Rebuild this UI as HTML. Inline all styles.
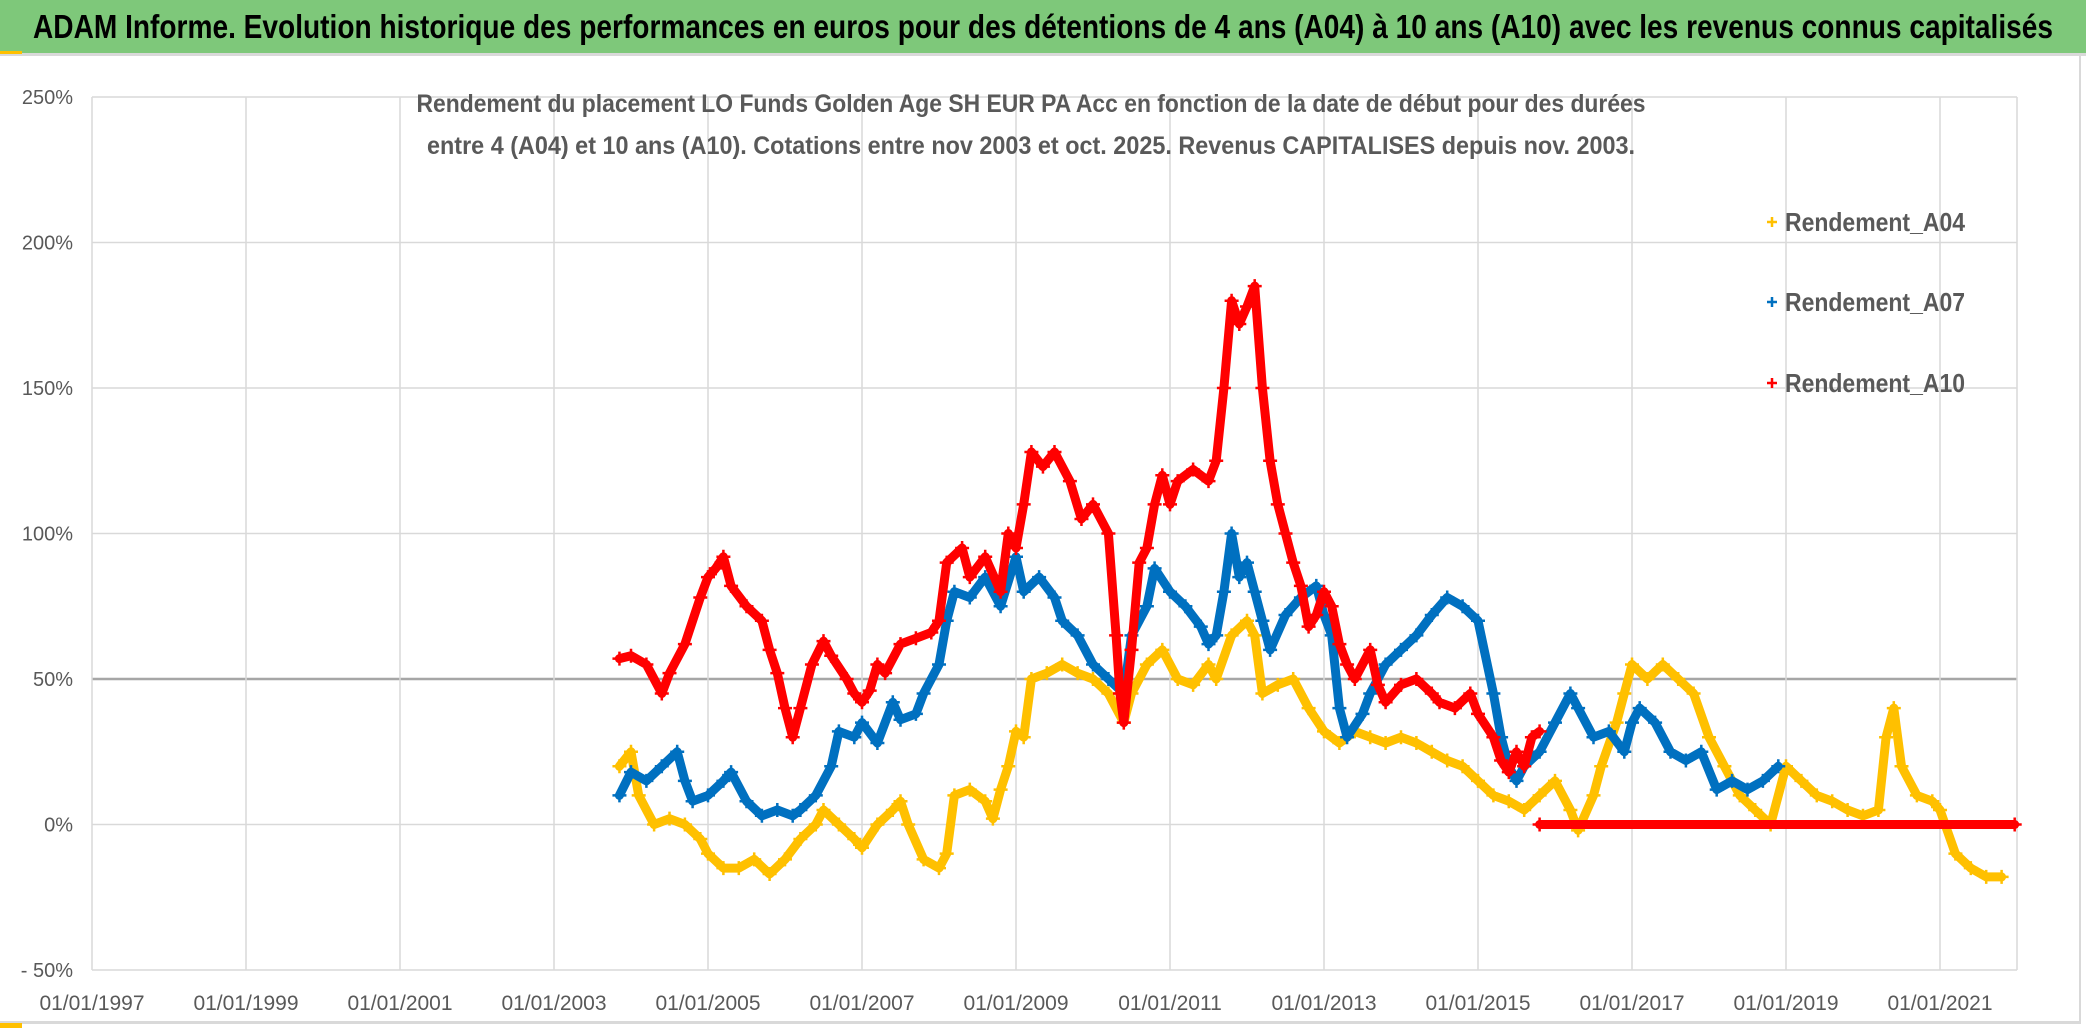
<!DOCTYPE html>
<html><head><meta charset="utf-8">
<style>
html,body{margin:0;padding:0;background:#fff;}
body{width:2086px;height:1032px;overflow:hidden;position:relative;}
svg{position:absolute;left:0;top:0;}
</style></head><body>
<svg id="chart" width="2086" height="1032"></svg>
<script>
const xTickYears=[1997,1999,2001,2003,2005,2007,2009,2011,2013,2015,2017,2019,2021];
const yTicks=[-50,0,50,100,150,200,250];
const a10Dates=[2003.85,2004.0,2004.2,2004.4,2004.5,2004.7,2004.9,2005.0,2005.1,2005.2,2005.3,2005.5,2005.7,2005.8,2005.9,2006.0,2006.1,2006.2,2006.35,2006.5,2006.6,2006.8,2006.9,2007.0,2007.1,2007.2,2007.3,2007.5,2007.7,2007.9,2008.0,2008.1,2008.3,2008.4,2008.6,2008.8,2008.9,2009.0,2009.1,2009.2,2009.35,2009.5,2009.7,2009.85,2010.0,2010.2,2010.3,2010.35,2010.4,2010.5,2010.6,2010.7,2010.8,2010.9,2011.0,2011.1,2011.3,2011.5,2011.6,2011.7,2011.8,2011.9,2012.0,2012.1,2012.2,2012.3,2012.4,2012.5,2012.6,2012.7,2012.8,2012.9,2013.0,2013.1,2013.2,2013.3,2013.4,2013.6,2013.7,2013.8,2014.0,2014.2,2014.4,2014.5,2014.7,2014.9,2015.0,2015.2,2015.3,2015.4,2015.5,2015.6,2015.7,2015.8];
const a10Values=[57,58,55,45,52,62,78,85,88,92,82,75,70,60,52,40,30,40,55,63,58,50,45,42,46,55,52,62,64,66,70,90,95,85,92,80,100,95,110,128,123,128,118,105,110,100,65,45,35,60,90,95,110,120,110,118,122,118,125,150,180,172,178,185,150,125,110,100,90,82,68,72,80,75,62,55,50,60,48,42,48,50,45,42,40,45,38,30,22,18,25,20,30,32];
const a10ZeroDates=[2015.8,2021.97];
const a10ZeroValues=[0,0];
const a07Dates=[2003.85,2004.0,2004.2,2004.4,2004.6,2004.7,2004.8,2005.0,2005.2,2005.3,2005.5,2005.7,2005.9,2006.1,2006.2,2006.4,2006.6,2006.7,2006.9,2007.0,2007.2,2007.4,2007.5,2007.7,2007.8,2008.0,2008.1,2008.2,2008.4,2008.6,2008.8,2009.0,2009.1,2009.3,2009.5,2009.6,2009.8,2010.0,2010.2,2010.4,2010.5,2010.7,2010.8,2011.0,2011.2,2011.4,2011.5,2011.6,2011.7,2011.8,2011.9,2012.0,2012.1,2012.2,2012.3,2012.5,2012.7,2012.9,2013.0,2013.1,2013.2,2013.3,2013.5,2013.6,2013.8,2014.0,2014.2,2014.4,2014.6,2014.8,2015.0,2015.2,2015.3,2015.4,2015.5,2015.6,2015.8,2016.0,2016.2,2016.3,2016.5,2016.7,2016.9,2017.0,2017.1,2017.3,2017.5,2017.7,2017.9,2018.1,2018.3,2018.5,2018.7,2018.9];
const a07Values=[10,18,15,20,25,15,8,10,15,18,8,3,5,3,5,10,20,32,30,35,28,42,36,38,45,55,70,80,78,85,75,92,80,85,78,70,65,55,50,45,65,75,88,80,75,68,62,65,80,100,85,90,80,70,60,72,78,82,72,65,40,30,38,45,55,60,65,72,78,75,70,45,30,20,15,20,25,35,45,40,30,32,25,35,40,35,25,22,25,12,15,12,15,20];
const a04Dates=[2003.85,2004.0,2004.1,2004.3,2004.5,2004.7,2004.9,2005.0,2005.2,2005.4,2005.6,2005.8,2006.0,2006.2,2006.4,2006.5,2006.7,2006.9,2007.0,2007.2,2007.4,2007.5,2007.6,2007.8,2008.0,2008.1,2008.2,2008.4,2008.6,2008.7,2008.8,2008.9,2009.0,2009.1,2009.2,2009.4,2009.6,2009.8,2010.0,2010.2,2010.4,2010.5,2010.7,2010.9,2011.1,2011.3,2011.5,2011.6,2011.8,2012.0,2012.1,2012.2,2012.4,2012.6,2012.8,2013.0,2013.2,2013.4,2013.6,2013.8,2014.0,2014.2,2014.4,2014.6,2014.8,2015.0,2015.2,2015.4,2015.6,2015.8,2016.0,2016.2,2016.3,2016.5,2016.6,2016.8,2016.9,2017.0,2017.2,2017.4,2017.6,2017.8,2018.0,2018.2,2018.4,2018.6,2018.8,2019.0,2019.2,2019.4,2019.6,2019.8,2020.0,2020.2,2020.3,2020.4,2020.5,2020.7,2020.9,2021.0,2021.2,2021.4,2021.6,2021.8];
const a04Values=[20,25,10,0,2,0,-5,-10,-15,-15,-12,-17,-12,-5,0,5,0,-5,-8,0,5,8,0,-12,-15,-10,10,12,8,2,12,20,32,30,50,52,55,52,50,45,35,45,55,60,50,48,55,50,65,70,65,45,48,50,40,32,28,32,30,28,30,28,25,22,20,15,10,8,5,10,15,5,-2,10,20,35,45,55,50,55,50,45,30,20,10,5,0,20,15,10,8,5,3,5,30,40,20,10,8,5,-10,-15,-18,-18];

const NS="http://www.w3.org/2000/svg";
const svg=document.getElementById('chart');
const X0=92,YR0=1997,PXYR=77;
const X1=X0+25*PXYR;
const xs=y=>X0+(y-YR0)*PXYR;
const ys=v=>824.5-v*(970-97)/300;
function mk(tag,attrs,parent){const e=document.createElementNS(NS,tag);for(const k in attrs)e.setAttribute(k,attrs[k]);(parent||svg).appendChild(e);return e;}
// banner
const bg=mk('rect',{x:0,y:0,width:2086,height:53,fill:'#7ec87a'});


mk('rect',{x:0,y:53,width:2086,height:3,fill:'#d9d9d9'});
mk('rect',{x:2079,y:53,width:2,height:970,fill:'#d9d9d9'});
mk('rect',{x:0,y:1021,width:2081,height:3,fill:'#d9d9d9'});
mk('rect',{x:0,y:51,width:22,height:3,fill:'#ffc000'});
mk('rect',{x:0,y:1023,width:22,height:5,fill:'#ffc000'});
const bt=mk('text',{x:1043,y:38,'text-anchor':'middle','font-size':33,'font-weight':'bold',fill:'#000',textLength:2020,lengthAdjust:'spacingAndGlyphs','font-family':'Liberation Sans Narrow, Liberation Sans, sans-serif'});
bt.textContent='ADAM Informe. Evolution historique des performances en euros pour des détentions de 4 ans (A04) à 10 ans (A10) avec les revenus connus capitalisés';


// grid
yTicks.forEach(v=>{
 const l=mk('line',{x1:X0,x2:X1,y1:ys(v),y2:ys(v),stroke:v===50?'#a6a6a6':'#d9d9d9','stroke-width':v===50?2.5:1.5});
 
 
 const t=mk('text',{x:73,y:ys(v)+7,'text-anchor':'end','font-size':20,fill:'#595959','font-family':'Liberation Sans Narrow, Liberation Sans, sans-serif'});
 t.textContent=(v<0?'- '+(-v):v)+'%';
 
 
});
xTickYears.forEach(yr=>{
 const l=mk('line',{x1:xs(yr),x2:xs(yr),y1:97,y2:970,stroke:'#d9d9d9','stroke-width':1.5});
 
 
 const t=mk('text',{x:xs(yr),y:1010,'text-anchor':'middle','font-size':21,fill:'#595959','font-family':'Liberation Sans Narrow, Liberation Sans, sans-serif'});
 t.textContent='01/01/'+yr;
 
 
});
mk('line',{x1:X1,x2:X1,y1:97,y2:970,stroke:'#d9d9d9','stroke-width':1.5});
// series
function series(dates,vals,color,name){
 const g=mk('g',{});
 
 
 const pts=dates.map((d,i)=>xs(d).toFixed(1)+','+ys(vals[i]).toFixed(1)).join(' ');
 mk('polyline',{points:pts,fill:'none',stroke:color,'stroke-width':9,'stroke-linejoin':'round','stroke-linecap':'round'},g);
 dates.forEach((d,i)=>{
  const x=xs(d),y=ys(vals[i]);
  mk('path',{d:`M${x-7},${y}H${x+7}M${x},${y-7}V${y+7}`,stroke:color,'stroke-width':2.5},g);
 });
}
series(a04Dates,a04Values,'#ffc000','series-a04');
series(a07Dates,a07Values,'#0070c0','series-a07');
series(a10Dates,a10Values,'#ff0000','series-a10');
series(a10ZeroDates,a10ZeroValues,'#ff0000','series-a10-zero');
// chart title
[['Rendement du placement LO Funds Golden Age SH EUR PA Acc en fonction de la date de début pour des durées',112,1229],
 ['entre 4 (A04) et 10 ans (A10). Cotations entre nov 2003 et oct. 2025. Revenus CAPITALISES depuis nov. 2003.',154,1208]].forEach(([s,y,w])=>{
 const t=mk('text',{x:1031,y:y,'text-anchor':'middle','font-size':25,'font-weight':'bold',fill:'#595959',textLength:w,lengthAdjust:'spacingAndGlyphs','font-family':'Liberation Sans Narrow, Liberation Sans, sans-serif'});
 t.textContent=s;
 
 
});
// legend
[['Rendement_A04','#ffc000',222],['Rendement_A07','#0070c0',302],['Rendement_A10','#ff0000',383]].forEach(([s,c,y])=>{
 const g=mk('g',{});
 
 
 mk('path',{d:`M1767,${y}H1777M1772,${y-5}V${y+5}`,stroke:c,'stroke-width':2.5},g);
 const t=mk('text',{x:1785,y:y+9,'font-size':26,'font-weight':'bold',fill:'#595959',textLength:180,lengthAdjust:'spacingAndGlyphs','font-family':'Liberation Sans Narrow, Liberation Sans, sans-serif'},g);
 t.textContent=s;
});
</script>
</body></html>
